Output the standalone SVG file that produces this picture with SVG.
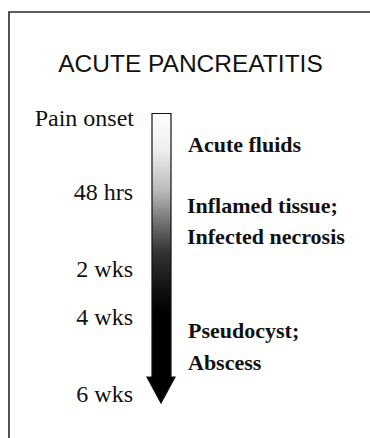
<svg xmlns="http://www.w3.org/2000/svg" width="370" height="438" viewBox="0 0 370 438">
<defs>
<style>
.title{font-family:"Liberation Sans",Arial,sans-serif;font-size:24.5px;fill:#111;text-anchor:middle}
.time{font-family:"Liberation Serif","Times New Roman",serif;font-size:24px;fill:#111;text-anchor:end}
.stage{font-family:"Liberation Serif","Times New Roman",serif;font-size:22px;font-weight:bold;fill:#111}
</style>
<linearGradient id="shade" x1="0" y1="113" x2="0" y2="380" gradientUnits="userSpaceOnUse">
<stop offset="0" stop-color="#ffffff"/>
<stop offset="0.14" stop-color="#eeeeee"/>
<stop offset="0.29" stop-color="#bbbbbb"/>
<stop offset="0.4" stop-color="#777777"/>
<stop offset="0.52" stop-color="#333333"/>
<stop offset="0.66" stop-color="#111111"/>
<stop offset="0.75" stop-color="#000000"/>
<stop offset="1" stop-color="#000000"/>
</linearGradient>
</defs>
<rect width="370" height="438" fill="#ffffff"/>
<g id="frame" fill="none" stroke="#2a2a2a" stroke-width="1.6">
<path d="M9,440 V12 H372"/>
</g>
<g id="title"><text class="title" x="190.5" y="72">ACUTE PANCREATITIS</text></g>
<g id="connectors">
<path id="timeline-arrow" d="M152,113.5 H171 V377 H175 L161,403 L147,377 H152 Z" fill="url(#shade)" stroke="#111" stroke-width="1.2" stroke-linejoin="miter"/>
</g>
<g id="times">
<text class="time" x="134" y="126">Pain onset</text>
<text class="time" x="133" y="200">48 hrs</text>
<text class="time" x="133" y="277">2 wks</text>
<text class="time" x="133" y="325">4 wks</text>
<text class="time" x="133" y="402">6 wks</text>
</g>
<g id="stage-acute"><text class="stage" x="188" y="152">Acute fluids</text></g>
<g id="stage-inflamed">
<text class="stage" x="187" y="213">Inflamed tissue;</text>
<text class="stage" x="187" y="244">Infected necrosis</text>
</g>
<g id="stage-pseudocyst">
<text class="stage" x="188" y="338">Pseudocyst;</text>
<text class="stage" x="188" y="370">Abscess</text>
</g>
</svg>
